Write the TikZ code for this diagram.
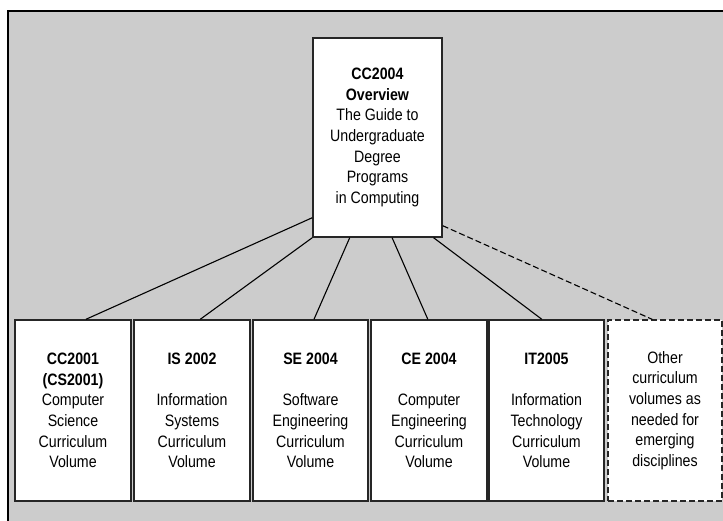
\documentclass[tikz,border=0pt]{standalone}
\usepackage{fontspec}
\setmainfont{Liberation Sans}[FakeStretch=0.86]
\usetikzlibrary{calc}
\definecolor{panelgray}{RGB}{204,204,204}
\tikzset{
  volbox/.style={draw=black!85, line width=1.4pt, fill=white, minimum width=116pt, minimum height=181pt,
     inner sep=0pt, align=center, font=\fontsize{16.5}{20.7}\selectfont},
  topbox/.style={volbox, minimum width=129pt, minimum height=199pt},
  otherbox/.style={volbox, dash pattern=on 6pt off 3pt, line width=1.2pt},
  conn/.style={line width=1.1pt, black},
  dconn/.style={conn, dash pattern=on 6pt off 3pt}
}
\begin{document}
\begin{tikzpicture}[x=1pt,y=-1pt]
\useasboundingbox (0,0) rectangle (723,520);
\fill[white] (0,0) rectangle (723,520);
\draw[line width=1.5pt, fill=panelgray] (8,11) rectangle (730,530);

\node[topbox] (top) at (377.5,137.5) {\textbf{CC2004}\\ \textbf{Overview}\\ The Guide to\\ Undergraduate\\ Degree\\ Programs\\ in Computing};

\node[volbox] (b1) at (73,410.5) {\textbf{CC2001}\\ \textbf{(CS2001)}\\ Computer\\ Science\\ Curriculum\\ Volume};
\node[volbox] (b2) at (192,410.5) {\textbf{IS 2002}\\ \strut\\ Information\\ Systems\\ Curriculum\\ Volume};
\node[volbox, minimum width=115pt] (b3) at (310.5,410.5) {\textbf{SE 2004}\\ \strut\\ Software\\ Engineering\\ Curriculum\\ Volume};
\node[volbox] (b4) at (429,410.5) {\textbf{CE 2004}\\ \strut\\ Computer\\ Engineering\\ Curriculum\\ Volume};
\node[volbox, minimum width=115pt] (b5) at (546.5,410.5) {\textbf{IT2005}\\ \strut\\ Information\\ Technology\\ Curriculum\\ Volume};
\node[otherbox, minimum width=114pt] (b6) at (665,410.5) {Other\\ curriculum\\ volumes as\\ needed for\\ emerging\\ disciplines};

\draw[conn] ($(top.south west)+(0,-20)$) -- ($(b1.north west)!0.61!(b1.north east)$);
\draw[conn] (top.south west) -- ($(b2.north west)!0.57!(b2.north east)$);
\draw[conn] ($(top.south west)!0.287!(top.south east)$) -- ($(b3.north west)!0.53!(b3.north east)$);
\draw[conn] ($(top.south west)!0.612!(top.south east)$) -- ($(b4.north west)!0.49!(b4.north east)$);
\draw[conn] ($(top.south west)!0.93!(top.south east)$) -- ($(b5.north west)!0.46!(b5.north east)$);
\draw[dconn] ($(top.south east)+(0,-12)$) -- ($(b6.north west)!0.39!(b6.north east)$);
\end{tikzpicture}
\end{document}
